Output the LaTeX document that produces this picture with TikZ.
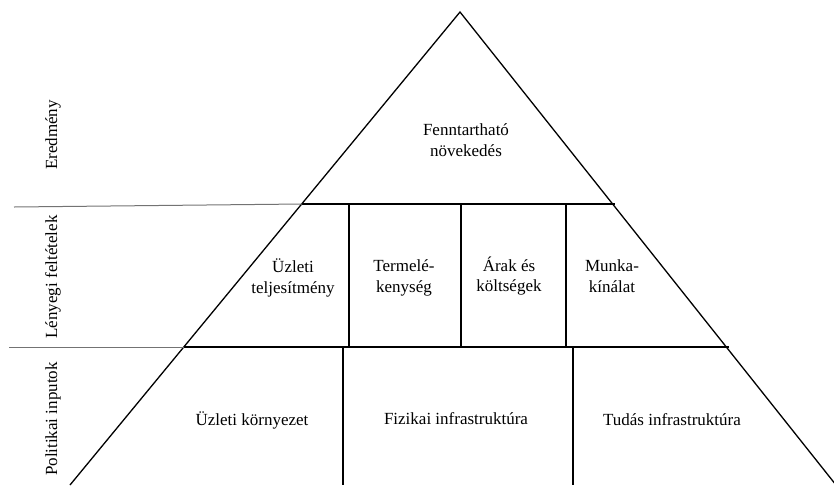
\documentclass[tikz,border=0pt]{standalone}
\usepackage{fontspec}
\setmainfont{Liberation Serif}
\usepackage{tikz}
\usetikzlibrary{positioning}

\begin{document}
\begin{tikzpicture}[
  x=1pt, y=-1pt,
  font=\fontsize{17}{20.5}\selectfont,
  edge/.style={line width=1.3pt},
  sep/.style={line width=1.9pt},
  side/.style={draw=black!55, line width=1pt},
  lbl/.style={align=center, inner sep=1pt},
  rowlbl/.style={rotate=90, inner sep=1pt},
]
  \useasboundingbox (0,0) rectangle (834,485);

  % pyramid
  \coordinate (apex) at (460,12);
  \coordinate (bl) at (70,485);
  \coordinate (br) at (836,485);
  \coordinate (ul) at (302,204);
  \coordinate (ur) at (615,204);
  \coordinate (ll) at (184,347);
  \coordinate (lr) at (729,347);
  \coordinate (us) at (14,207);
  \coordinate (ls) at (9,347);

  \draw[edge] (bl) -- (apex) -- (br);
  \draw[sep] (ul) -- (ur);
  \draw[sep] (ll) -- (lr);
  \draw[side] (us) -- (ul);
  \draw[side] (ls) -- (ll);

  % dividers
  \foreach \x in {349,461,566}
    \draw[sep] (\x,204) -- (\x,347);
  \foreach \x in {343,573}
    \draw[sep] (\x,346) -- (\x,485);

  % texts
  \node[lbl] (top) at (466,140) {Fenntartható\\növekedés};
  \node[lbl] (uzl) at (293,278) {Üzleti\\teljesítmény};
  \node[lbl] (term) at (404,278) {Termelé-\\kenység};
  \node[lbl] (arak) at (509,276) {Árak és\\költségek};
  \node[lbl] (munka) at (612,276) {Munka-\\kínálat};
  \node[lbl] (korny) at (252,420) {Üzleti környezet};
  \node[lbl] (fiz) at (456,419) {Fizikai infrastruktúra};
  \node[lbl] (tud) at (672,420) {Tudás infrastruktúra};

  % row labels
  \node[rowlbl] (ered) at (53,135) {Eredmény};
  \node[rowlbl] (leny) at (53,277) {Lényegi feltételek};
  \node[rowlbl] (pol) at (53,419) {Politikai inputok};
\end{tikzpicture}
\end{document}
